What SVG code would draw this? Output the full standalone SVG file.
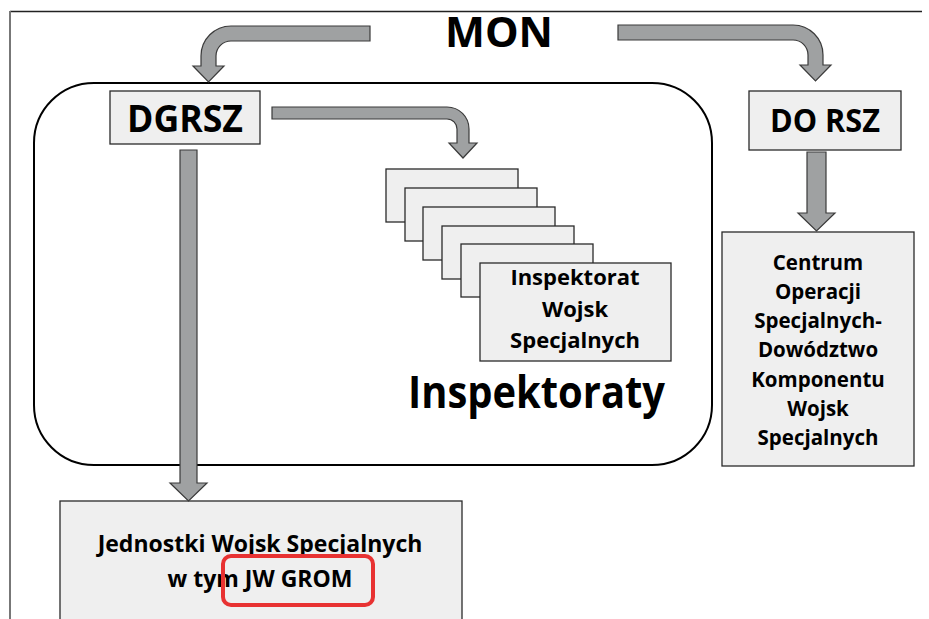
<svg xmlns="http://www.w3.org/2000/svg" width="929" height="619" viewBox="0 0 929 619">
<style>
.box{fill:#efefef;stroke:#2a2a2a;stroke-width:1.3}
.arr{fill:#9fa1a2;stroke:#3a3a3a;stroke-width:1.2;stroke-linejoin:miter}
text{font-family:"Open Sans","Noto Sans","Liberation Sans",sans-serif;font-weight:bold;fill:#000;text-anchor:middle}
.t1{font-size:22px}
.t2{font-size:20.5px}
.t3{font-size:23px}
</style>
<rect width="929" height="619" fill="#fff"/>
<g id="frame">
<line x1="10" y1="11.5" x2="922" y2="11.5" stroke="#222" stroke-width="1.5"/>
<line x1="10" y1="11" x2="10" y2="619" stroke="#777" stroke-width="2"/>
</g>
<g id="container">
<rect x="34" y="83" width="678" height="382" rx="60" ry="60" fill="none" stroke="#000" stroke-width="2"/>
</g>
<g id="mon"><text x="499" y="47" font-size="41" textLength="108" lengthAdjust="spacingAndGlyphs">MON</text></g>
<g id="dgrsz">
<rect class="box" x="110" y="91" width="150" height="53"/>
<text x="185" y="132" font-size="37" textLength="116" lengthAdjust="spacingAndGlyphs">DGRSZ</text>
</g>
<g id="dorsz">
<rect class="box" x="749" y="91" width="152" height="59"/>
<text x="825" y="132" font-size="32" textLength="110" lengthAdjust="spacingAndGlyphs">DO RSZ</text>
</g>
<g id="inspektoraty">
<rect class="box" x="386" y="169" width="132" height="53"/>
<rect class="box" x="405" y="188" width="132" height="53"/>
<rect class="box" x="423" y="207" width="132" height="53"/>
<rect class="box" x="442" y="226" width="132" height="53"/>
<rect class="box" x="461" y="244" width="132" height="53"/>
<rect class="box" x="480" y="263" width="191" height="98"/>
<text class="t1" x="575" y="285">Inspektorat</text>
<text class="t1" x="575" y="317">Wojsk</text>
<text class="t1" x="575" y="348">Specjalnych</text>
<text x="536.5" y="408" font-size="45" textLength="257" lengthAdjust="spacingAndGlyphs">Inspektoraty</text>
</g>
<g id="centrum">
<rect class="box" x="722" y="232" width="192" height="234"/>
<text class="t2" x="818" y="270">Centrum</text>
<text class="t2" x="818" y="299">Operacji</text>
<text class="t2" x="818" y="328">Specjalnych-</text>
<text class="t2" x="818" y="357">Dowództwo</text>
<text class="t2" x="818" y="387">Komponentu</text>
<text class="t2" x="818" y="416">Wojsk</text>
<text class="t2" x="818" y="445">Specjalnych</text>
</g>
<g id="jednostki">
<rect class="box" x="60" y="501" width="402" height="130"/>
<text class="t3" x="260" y="552">Jednostki Wojsk Specjalnych</text>
<text class="t3" x="260" y="587">w tym JW GROM</text>
<rect x="223" y="556" width="150" height="49" rx="8" ry="8" fill="none" stroke="#e83232" stroke-width="4"/>
</g>
<g id="connectors">
<path class="arr" d="M370,26 L231,26 A30,30 0 0 0 201,56 L201,66 L193,66 L208.5,82 L224,66 L216,66 L216,56 A15,15 0 0 1 231,41 L370,41 Z"/>
<path class="arr" d="M618,25 L793,25 A30,30 0 0 1 823,55 L823,65 L831,65 L815.5,81 L800,65 L808,65 L808,55 A15,15 0 0 0 793,40 L618,40 Z"/>
<path class="arr" d="M272,107 L447,107 A22,22 0 0 1 469,129 L469,143 L477,143 L463,158 L449,143 L457,143 L457,129 A10,10 0 0 0 447,119 L272,119 Z"/>
<path class="arr" d="M180,150 L197,150 L197,483 L207,483 L188.5,501 L170,483 L180,483 Z"/>
<path class="arr" d="M807,152 L826,152 L826,213 L835,213 L816.5,231 L798,213 L807,213 Z"/>
</g>
</svg>
